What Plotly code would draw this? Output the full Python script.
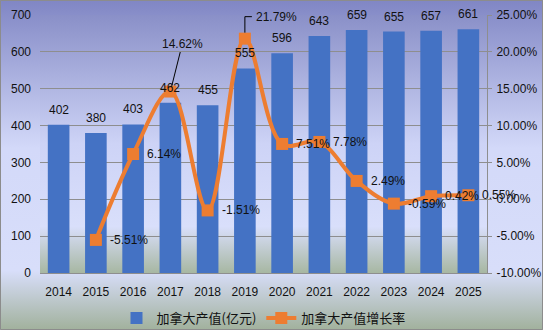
import base64
import plotly.graph_objects as go

# Canadian output (100 million yuan) and year-on-year growth rate (%)
years = ["2014", "2015", "2016", "2017", "2018", "2019",
         "2020", "2021", "2022", "2023", "2024", "2025"]
output_values = [402, 380, 403, 462, 455, 555, 596, 643, 659, 655, 657, 661]
growth_rates = [None, -5.51, 6.14, 14.62, -1.51, 21.79,
                7.51, 7.78, 2.49, -0.59, 0.42, 0.55]

left_ticks = [0, 100, 200, 300, 400, 500, 600, 700]
right_ticks = [-10, -5, 0, 5, 10, 15, 20, 25]

W, H = 543, 330
M_L, M_R, M_T, M_B = 40, 56, 15, 57

BAR_COLOR = "#4472C4"
LINE_COLOR = "#ED7D31"
GRID_COLOR = "#8E8E8E"
NUM_FONT = "Liberation Sans"
CJK_FONT = "Noto Sans CJK SC"


def gradient_uri(stops):
    """Vertical SVG gradient as a data URI for a background image."""
    stop_tags = "".join(
        f'<stop offset="{o}" stop-color="{c}"/>' for o, c in stops
    )
    svg = (
        '<svg xmlns="http://www.w3.org/2000/svg" width="100" height="100" '
        'preserveAspectRatio="none">'
        f'<defs><linearGradient id="g" x1="0" y1="0" x2="0" y2="1">{stop_tags}'
        '</linearGradient></defs>'
        '<rect width="100" height="100" fill="url(#g)"/></svg>'
    )
    return "data:image/svg+xml;base64," + base64.b64encode(svg.encode()).decode()


outer_bg = gradient_uri([
    (0.0, "#8086C4"),
    (0.45, "#D3D9F9"),
    (0.82, "#D8DEFA"),
    (1.0, "#A1B19C"),
])
plot_bg = gradient_uri([
    (0.0, "#8A90C8"),
    (0.5, "#CDD3F6"),
    (0.82, "#D9DFFB"),
    (1.0, "#A7B7A2"),
])

pw = W - M_L - M_R
ph = H - M_T - M_B

# category positions on the x axis (index of each year)
xpos = list(range(len(years)))

fig = go.Figure()

fig.add_trace(go.Bar(
    x=xpos, y=output_values, name="加拿大产值(亿元)",
    marker=dict(color=BAR_COLOR, line=dict(width=0)),
    yaxis="y",
))

fig.add_trace(go.Scatter(
    x=xpos, y=growth_rates, name="加拿大产值增长率",
    mode="lines+markers",
    line=dict(color=LINE_COLOR, width=4, shape="spline", smoothing=1),
    marker=dict(symbol="square", size=12, color=LINE_COLOR),
    yaxis="y2",
))

annotations = []
# Value labels above the bars
for xi, v in zip(xpos, output_values):
    annotations.append(dict(
        x=xi, y=v, xref="x", yref="y", text=str(v), showarrow=False,
        yanchor="bottom", yshift=6,
        font=dict(family=NUM_FONT, size=12, color="#111111"),
    ))

# Growth-rate labels to the right of the markers
for xi, yr, g in zip(xpos, years, growth_rates):
    if g is None:
        continue
    label = f"{g:.2f}%"
    if yr == "2017":
        annotations.append(dict(
            x=xi, y=g, xref="x", yref="y2", text=label, showarrow=True,
            arrowhead=0, arrowwidth=1, arrowcolor="#000000", standoff=5,
            ax=12, ay=-48,
            font=dict(family=NUM_FONT, size=12, color="#111111"),
        ))
    elif yr == "2019":
        annotations.append(dict(
            x=xi, y=g, xref="x", yref="y2", text=label, showarrow=False,
            xanchor="left", xshift=9, yshift=22,
            font=dict(family=NUM_FONT, size=12, color="#111111"),
        ))
    else:
        annotations.append(dict(
            x=xi, y=g, xref="x", yref="y2", text=label, showarrow=False,
            xanchor="left", xshift=12,
            font=dict(family=NUM_FONT, size=12, color="#111111"),
        ))

i2019 = years.index("2019")
shapes = [
    # elbow leader for the 2019 growth label
    dict(
        type="path", xref="x", yref="y2",
        xsizemode="pixel", ysizemode="pixel",
        xanchor=xpos[i2019], yanchor=growth_rates[i2019],
        path="M0,6 L0,22 L7,22",
        line=dict(color="#000000", width=1),
    ),
    # figure border
    dict(
        type="rect", xref="paper", yref="paper",
        x0=-M_L / pw + 0.5 / pw, x1=1 + M_R / pw - 0.5 / pw,
        y0=-M_B / ph + 0.5 / ph, y1=1 + M_T / ph - 0.5 / ph,
        line=dict(color="#8C8C8C", width=1), layer="above",
    ),
]

images = [
    dict(
        source=outer_bg, xref="paper", yref="paper",
        x=-M_L / pw, y=1 + M_T / ph,
        sizex=W / pw, sizey=H / ph,
        xanchor="left", yanchor="top", sizing="stretch", layer="below",
    ),
    dict(
        source=plot_bg, xref="paper", yref="paper",
        x=0, y=1, sizex=1, sizey=1,
        xanchor="left", yanchor="top", sizing="stretch", layer="below",
    ),
]

fig.update_layout(
    width=W, height=H,
    margin=dict(l=M_L, r=M_R, t=M_T, b=M_B, pad=0, autoexpand=False),
    paper_bgcolor="rgba(0,0,0,0)",
    plot_bgcolor="rgba(0,0,0,0)",
    bargap=0.42,
    showlegend=True,
    legend=dict(
        orientation="h", x=0.5, xanchor="center", y=-0.175, yanchor="middle",
        font=dict(family=CJK_FONT, size=13, color="#111111"),
        bgcolor="rgba(0,0,0,0)", itemwidth=30, tracegroupgap=0,
    ),
    xaxis=dict(
        range=[-0.5, len(years) - 0.5],
        tickvals=xpos, ticktext=years,
        showline=True, linecolor=GRID_COLOR, linewidth=1,
        showgrid=False, zeroline=False, ticks="", ticklabelstandoff=8,
        tickfont=dict(family=NUM_FONT, size=12, color="#111111"),
    ),
    yaxis=dict(
        range=[0, 700], tickvals=left_ticks,
        showgrid=True, gridcolor=GRID_COLOR, gridwidth=1,
        showline=False, zeroline=False, ticks="", ticklabelstandoff=8,
        tickfont=dict(family=NUM_FONT, size=12, color="#111111"),
    ),
    yaxis2=dict(
        overlaying="y", side="right", range=[-10, 25], tickvals=right_ticks,
        ticktext=[f"{t:.2f}%" for t in right_ticks],
        showgrid=False, zeroline=False,
        showline=True, linecolor=GRID_COLOR, linewidth=1,
        ticks="outside", ticklen=4, tickcolor=GRID_COLOR, ticklabelstandoff=2,
        tickfont=dict(family=NUM_FONT, size=12, color="#111111"),
    ),
    annotations=annotations,
    shapes=shapes,
    images=images,
)

fig.write_html("out.html")
